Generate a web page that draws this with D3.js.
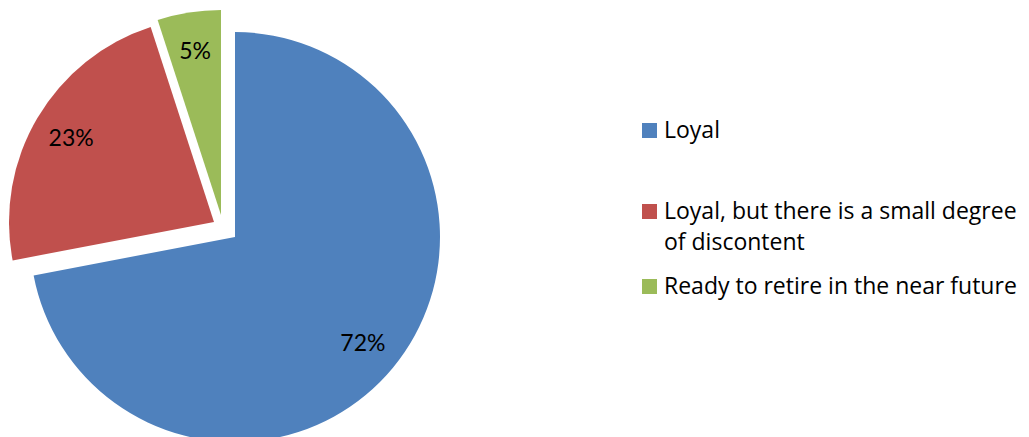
<!DOCTYPE html>
<html>
<head>
<meta charset="utf-8">
<script src="https://cdn.jsdelivr.net/npm/d3@7"></script>
<style>
  html, body { margin: 0; padding: 0; background: #fff; }
  svg { display: block; }
  text { fill: #000; }
  .lbl { font-family: Lato, "Open Sans", sans-serif; }
  .leg { font-family: "Open Sans", Lato, sans-serif; }
</style>
</head>
<body>
<svg id="chart" width="1029" height="437"></svg>
<script>
const categories = ["Loyal", "Loyal, but there is a small degree of discontent", "Ready to retire in the near future"];
const values = [72, 23, 5];
const valueLabels = ["72%", "23%", "5%"];
const legendLines = [["Loyal"], ["Loyal, but there is a small degree", "of discontent"], ["Ready to retire in the near future"]];

const colors = ["#4F81BD", "#C0504D", "#9BBB59"];
const explode = [[0, 0], [-21, -15], [-14, -22]];
const cx = 235, cy = 237, R = 205;

const svg = d3.select("#chart");
const data = categories.map((c, i) => ({ name: c, value: values[i], label: valueLabels[i], i }));

const pie = d3.pie().value(d => d.value).sort(null);
const arcs = pie(data);
const arc = d3.arc().innerRadius(0).outerRadius(R);
const labelArc = d3.arc().innerRadius(166).outerRadius(166);

const g = svg.append("g");
const slice = g.selectAll("g.slice").data(arcs).enter().append("g")
  .attr("class", "slice")
  .attr("transform", d => `translate(${cx + explode[d.index][0]},${cy + explode[d.index][1]})`);

slice.append("path").attr("d", arc).attr("fill", d => colors[d.index]);

slice.append("text")
  .attr("class", "lbl")
  .attr("transform", d => {
    const c = labelArc.centroid(d);
    return `translate(${c[0]},${c[1]})`;
  })
  .attr("text-anchor", "middle")
  .attr("dy", "0.35em")
  .style("font-size", "23px")
  .text(d => d.data.label);

// legend
const legendX = 642, legendTops = [123, 204, 279];
const lg = svg.append("g");
categories.forEach((c, i) => {
  const row = lg.append("g").attr("transform", `translate(${legendX},${legendTops[i]})`);
  row.append("rect").attr("width", 15).attr("height", 15).attr("fill", colors[i]);
  const t = row.append("text").attr("class", "leg").attr("x", 22).attr("y", 15).style("font-size", "23px");
  legendLines[i].forEach((line, j) => {
    t.append("tspan").attr("x", 22).attr("dy", j === 0 ? 0 : 31).text(line);
  });
});
</script>
</body>
</html>
